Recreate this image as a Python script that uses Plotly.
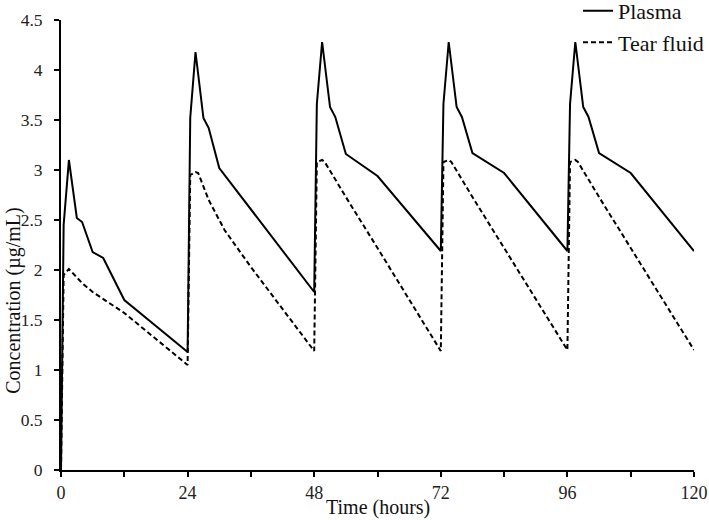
import plotly.graph_objects as go

# Plasma concentration (µg/mL) vs time (hours)
plasma_time = [0, 0.5, 1.5, 3, 4, 6, 8, 12, 24,
               24.5, 25.5, 27, 28, 30, 48,
               48.5, 49.5, 51, 52, 54, 60, 72,
               72.5, 73.5, 75, 76, 78, 84, 96,
               96.5, 97.5, 99, 100, 102, 108, 120]
plasma_conc = [0, 2.45, 3.10, 2.52, 2.48, 2.18, 2.12, 1.70, 1.18,
               3.52, 4.18, 3.52, 3.42, 3.02, 1.78,
               3.66, 4.28, 3.63, 3.53, 3.16, 2.94, 2.19,
               3.66, 4.28, 3.63, 3.53, 3.17, 2.97, 2.19,
               3.66, 4.28, 3.63, 3.53, 3.17, 2.97, 2.19]

# Tear fluid concentration (µg/mL) vs time (hours)
tear_time = [0, 0.5, 1.5, 3, 4, 6, 8, 12, 24,
             24.5, 25.5, 26, 28, 31, 36, 48,
             48.5, 49.5, 50, 54, 60, 72,
             72.5, 73.5, 74, 78, 84, 96,
             96.5, 97.5, 98, 102, 108, 120]
tear_conc = [0, 1.95, 2.01, 1.92, 1.87, 1.78, 1.71, 1.57, 1.05,
             2.95, 2.98, 2.97, 2.70, 2.40, 2.03, 1.19,
             3.08, 3.10, 3.08, 2.73, 2.22, 1.19,
             3.08, 3.10, 3.08, 2.73, 2.22, 1.20,
             3.08, 3.10, 3.08, 2.73, 2.22, 1.20]

x_tickvals = [0, 12, 24, 36, 48, 60, 72, 84, 96, 108, 120]
x_ticktext = ["0", "", "24", "", "48", "", "72", "", "96", "", "120"]
y_tickvals = [0, 0.5, 1, 1.5, 2, 2.5, 3, 3.5, 4, 4.5]
y_ticktext = ["0", "0.5", "1", "1.5", "2", "2.5", "3", "3.5", "4", "4.5"]

x_title = "Time (hours)"
y_title = "Concentration (µg/mL)"

FONT = "Liberation Serif, Times New Roman, serif"

fig = go.Figure()
fig.add_trace(go.Scatter(x=plasma_time, y=plasma_conc, mode="lines", name="Plasma",
                         line=dict(color="black", width=2)))
fig.add_trace(go.Scatter(x=tear_time, y=tear_conc, mode="lines", name="Tear fluid",
                         line=dict(color="black", width=2, dash="5px,3px")))

fig.update_layout(
    width=709, height=520,
    margin=dict(l=61, r=15, t=20, b=50, autoexpand=False),
    paper_bgcolor="white", plot_bgcolor="white",
    font=dict(family=FONT, size=18, color="#222"),
    legend=dict(xref="container", yref="paper", x=1.0, y=1.067,
                xanchor="right", yanchor="top", bgcolor="rgba(0,0,0,0)",
                font=dict(size=22, color="#111"), itemwidth=30,
                tracegroupgap=0),
    xaxis=dict(range=[0, 120], tickvals=x_tickvals, ticktext=x_ticktext,
               showgrid=False, zeroline=False, showline=True, linecolor="black",
               linewidth=2, ticks="outside", ticklen=5, tickwidth=2, tickcolor="black",
               tickfont=dict(size=18)),
    yaxis=dict(range=[0, 4.5], tickvals=y_tickvals, ticktext=y_ticktext,
               showgrid=False, zeroline=False, showline=True, linecolor="black",
               linewidth=2, ticks="outside", ticklen=5, tickwidth=2, tickcolor="black",
               tickfont=dict(size=17.5), ticklabelstandoff=8),
    annotations=[
        dict(text=x_title, xref="paper", yref="paper", x=0.5, y=-0.084,
             xanchor="center", yanchor="middle", showarrow=False,
             font=dict(size=20, color="#111")),
        dict(text=y_title, xref="paper", yref="paper", x=-0.075, y=0.375,
             xanchor="center", yanchor="middle", textangle=-90, showarrow=False,
             font=dict(size=20, color="#111")),
    ],
)

# Remove the default 8px page margin so the 709x520 figure fills the window exactly.
fig.write_html("out.html", config={"displayModeBar": False},
               post_script="document.body.style.margin='0';")
